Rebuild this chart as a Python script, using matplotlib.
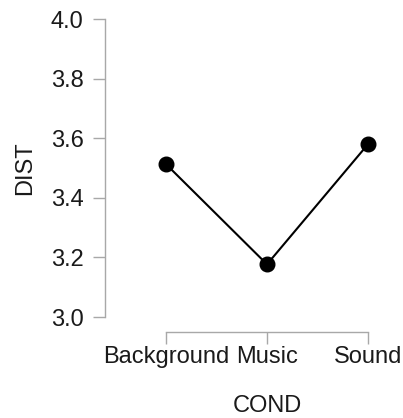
import matplotlib
matplotlib.use("Agg")
import matplotlib.pyplot as plt

# Descriptives plot: mean DIST per COND level
conditions = ["Background", "Music", "Sound"]
dist_means = [3.513, 3.177, 3.580]
y_ticks = [3.0, 3.2, 3.4, 3.6, 3.8, 4.0]

plt.rcParams["font.family"] = ["Liberation Sans", "DejaVu Sans"]

W, H = 403, 418
fig = plt.figure(figsize=(W / 100, H / 100), dpi=100)
# axes box in pixels: left 105, right 398, top 19, bottom 332
ax = fig.add_axes([105 / W, (H - 332) / H, 293 / W, 313 / H])

xs = list(range(len(conditions)))
ax.plot(xs, dist_means, color="black", lw=1.5, marker="o", ms=10.5,
        clip_on=False, zorder=3)

ax.set_xlim(-0.604, 2.297)
ax.set_ylim(2.950, 4.0)
ax.set_xticks(xs)
ax.set_xticklabels(conditions)
ax.set_yticks(y_ticks)
ax.set_yticklabels([f"{v:.1f}" for v in y_ticks])

for side in ["top", "right"]:
    ax.spines[side].set_visible(False)
ax.spines["left"].set_bounds(3.0, 4.0)
ax.spines["bottom"].set_bounds(0, 2)
for side in ["left", "bottom"]:
    ax.spines[side].set_color("#a8a8a8")
    ax.spines[side].set_linewidth(1.0)

ax.tick_params(axis="both", colors="#a8a8a8", labelcolor="#1a1a1a",
               labelsize=17, length=8.5, width=1.0)
ax.tick_params(axis="y", pad=7)
ax.tick_params(axis="x", pad=1.5)

ax.set_ylabel("DIST", fontsize=17, color="#1a1a1a")
ax.set_xlabel("COND", fontsize=17, color="#1a1a1a")
ax.yaxis.set_label_coords(-0.236, 0.524)
ax.xaxis.set_label_coords(0.553, -0.200)

fig.savefig("out.png", dpi=100)
